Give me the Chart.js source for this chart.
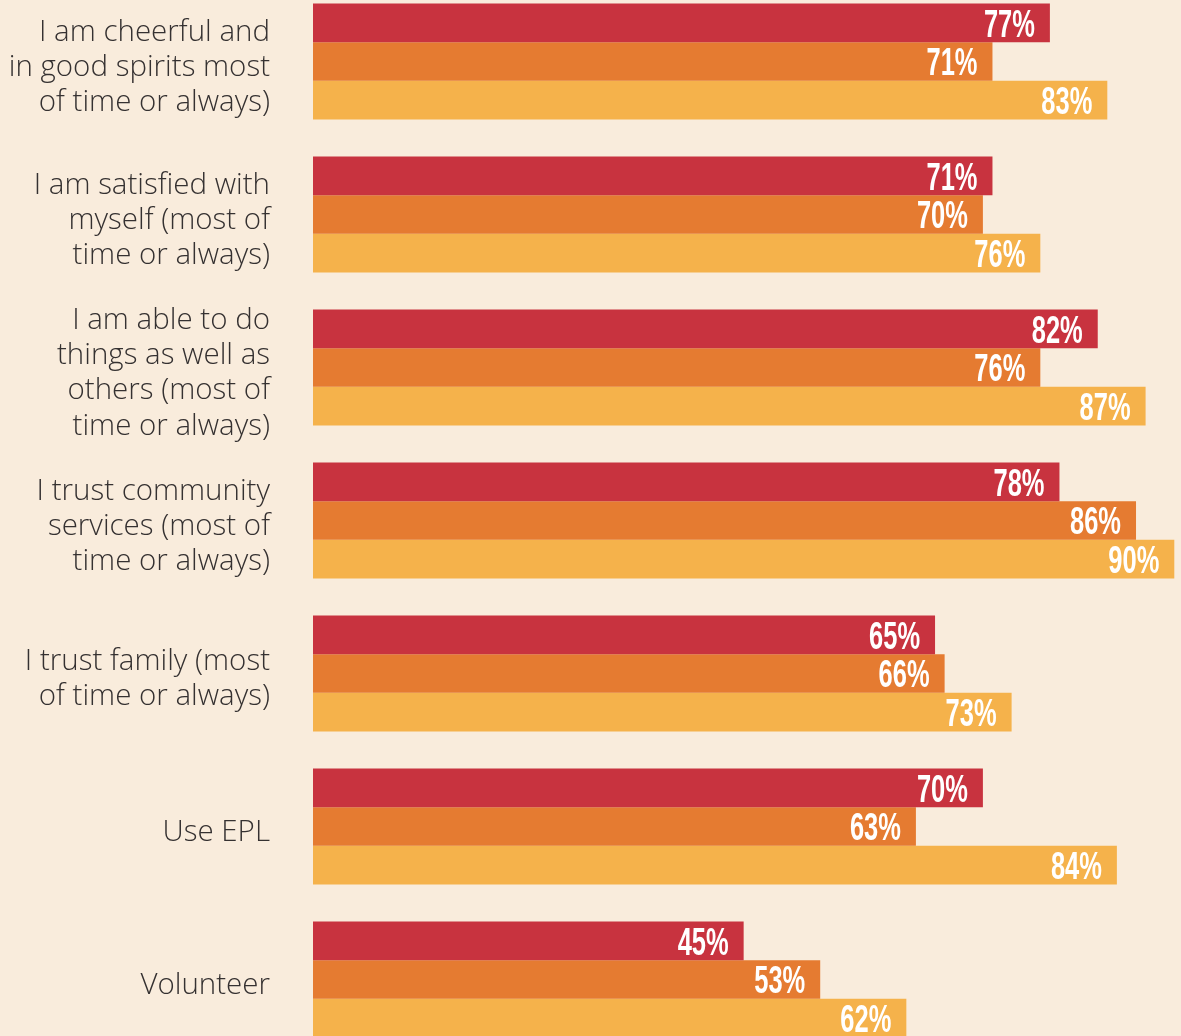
<!DOCTYPE html>
<html>
<head>
<meta charset="utf-8">
<script src="https://cdn.jsdelivr.net/npm/chart.js@4.4.1/dist/chart.umd.min.js"></script>
<style>
  html, body { margin: 0; padding: 0; background: #f9ecdc; overflow: hidden; width: 1181px; height: 1036px; }
  #wrap { position: absolute; left: 0; top: -15px; width: 1181px; height: 1071px; }
</style>
</head>
<body>
<div id="wrap"><canvas id="c"></canvas></div>
<script>
const categories = [
  ["I am cheerful and", "in good spirits most", "of time or always)"],
  ["I am satisfied with", "myself (most of", "time or always)"],
  ["I am able to do", "things as well as", "others (most of", "time or always)"],
  ["I trust community", "services (most of", "time or always)"],
  ["I trust family (most", "of time or always)"],
  "Use EPL",
  "Volunteer"
];
const seriesA = [77, 71, 82, 78, 65, 70, 45];
const seriesB = [71, 70, 76, 86, 66, 63, 53];
const seriesC = [83, 76, 87, 90, 73, 84, 62];
const colors = ["#c8333f", "#e57b31", "#f5b24b"];

const valueLabels = {
  id: 'valueLabels',
  afterLayout(chart) {
    const y = chart.scales.y;
    if (!y._shiftPatched) {
      const orig = y.drawLabels;
      y.drawLabels = function (area) {
        const ctx = this.ctx;
        ctx.save();
        ctx.translate(0, 6);
        orig.call(this, area);
        ctx.restore();
      };
      y._shiftPatched = true;
    }
  },
  afterDatasetsDraw(chart) {
    const ctx = chart.ctx;
    ctx.save();
    ctx.font = "bold 39px 'Liberation Sans Narrow', 'Liberation Sans', sans-serif";
    const sx = 51 / ctx.measureText('77%').width;
    ctx.fillStyle = '#ffffff';
    ctx.textAlign = 'right';
    ctx.textBaseline = 'middle';
    chart.data.datasets.forEach((ds, di) => {
      const meta = chart.getDatasetMeta(di);
      meta.data.forEach((bar, i) => {
        ctx.save();
        ctx.translate(bar.x - 15, bar.y + 3);
        ctx.scale(sx, 1);
        ctx.fillText(ds.data[i] + '%', 0, 0);
        ctx.restore();
      });
    });
    ctx.restore();
  }
};

new Chart(document.getElementById('c'), {
  type: 'bar',
  data: {
    labels: categories,
    datasets: [
      { data: seriesA, backgroundColor: colors[0] },
      { data: seriesB, backgroundColor: colors[1] },
      { data: seriesC, backgroundColor: colors[2] }
    ]
  },
  options: {
    indexAxis: 'y',
    responsive: true,
    maintainAspectRatio: false,
    animation: false,
    layout: { padding: 0 },
    categoryPercentage: 0.758,
    barPercentage: 1.0,
    plugins: { legend: { display: false }, tooltip: { enabled: false } },
    scales: {
      x: { display: false, min: 0, max: 90.7 },
      y: {
        afterFit(scale) {
          scale.width = 313;
          scale.paddingTop = 0;
          scale.paddingBottom = 0;
        },
        grid: { display: false, drawTicks: false },
        border: { display: false },
        ticks: {
          padding: 43,
          color: '#353131',
          font: { family: "'Open Sans', Lato, sans-serif", size: 29.5, weight: 300, lineHeight: 1.19 }
        }
      }
    }
  },
  plugins: [valueLabels]
});
</script>
</body>
</html>
